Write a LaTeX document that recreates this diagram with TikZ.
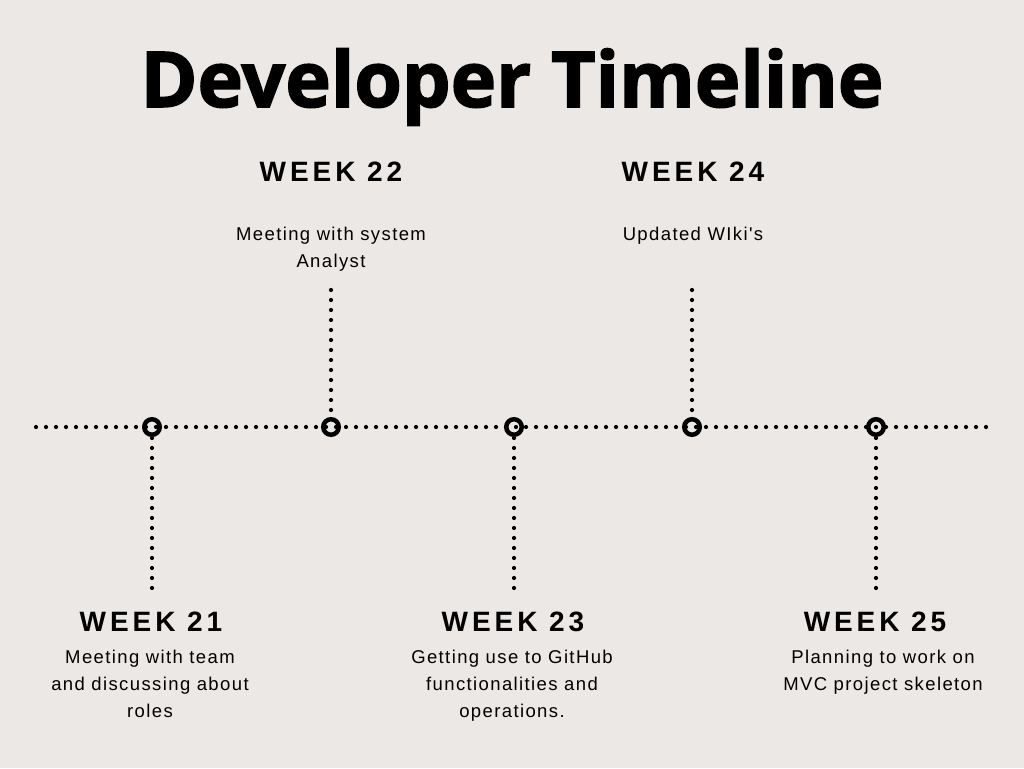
\documentclass[tikz,border=0pt]{standalone}
\usepackage{fontspec}
\setmainfont{Liberation Sans}
\newfontfamily\titlefont{Open Sans}[FakeBold=2]
\newfontfamily\headfont{Liberation Sans}[LetterSpace=14]
\newfontfamily\bodyfont{Liberation Sans}[LetterSpace=7.5]
\definecolor{bg}{RGB}{236,232,230}
\tikzset{
  x=1pt, y=1pt,
  titletext/.style={anchor=base, font=\titlefont\bfseries\fontsize{77}{80}\selectfont},
  weektext/.style={anchor=base, font=\headfont\bfseries\fontsize{28}{30}\selectfont},
  bodytext/.style={anchor=base, align=center, font=\bodyfont\fontsize{18.5}{27}\selectfont, inner sep=0pt},
  dotline/.style={line width=4.2pt, line cap=round, dash pattern=on 0pt off 10pt},
  milestone/.style={circle, draw, line width=4.5pt, minimum size=15.5pt, inner sep=0pt},
}
\begin{document}
\begin{tikzpicture}
\fill[bg] (0,0) rectangle (1024,768);
\useasboundingbox (0,0) rectangle (1024,768);

\node[titletext] (title) at (512,661) {Developer Timeline};

% timeline
\coordinate (lstart) at (36,341);
\coordinate (lend) at (989,341);
\draw[dotline] (lstart) -- (lend);

\node[milestone] (m21) at (152,341) {};
\node[milestone] (m22) at (331,341) {};
\node[milestone] (m23) at (514,341) {};
\node[milestone] (m24) at (692,341) {};
\node[milestone] (m25) at (876,341) {};

\coordinate (e21) at (152,179);
\coordinate (e22) at (331,479);
\coordinate (e23) at (514,179);
\coordinate (e24) at (692,479);
\coordinate (e25) at (876,179);

\draw[dotline] ([yshift=-11pt]m21.center) -- (e21);
\draw[dotline] ([yshift=-11pt]m23.center) -- (e23);
\draw[dotline] ([yshift=-11pt]m25.center) -- (e25);
\draw[dotline] ([yshift=17pt]m22.center) -- (e22);
\draw[dotline] ([yshift=17pt]m24.center) -- (e24);

% upper labels
\node[weektext] (w22) at (331,586) {WEEK 22};
\node[weektext] (w24) at (693,586) {WEEK 24};
\node[bodytext] (t22) at (331,500) {Meeting with system\\Analyst};
\node[bodytext] (t24) at (693,527) {Updated WIki's};

% lower labels
\node[weektext] (w21) at (151,136) {WEEK 21};
\node[weektext] (w23) at (513,136) {WEEK 23};
\node[weektext] (w25) at (875,136) {WEEK 25};
\node[bodytext] (t21) at (150,51) {Meeting with team\\and discussing about\\roles};
\node[bodytext] (t23) at (512,51) {Getting use to GitHub\\functionalities and\\operations.};
\node[bodytext] (t25) at (883,78) {Planning to work on\\MVC project skeleton};
\end{tikzpicture}
\end{document}
